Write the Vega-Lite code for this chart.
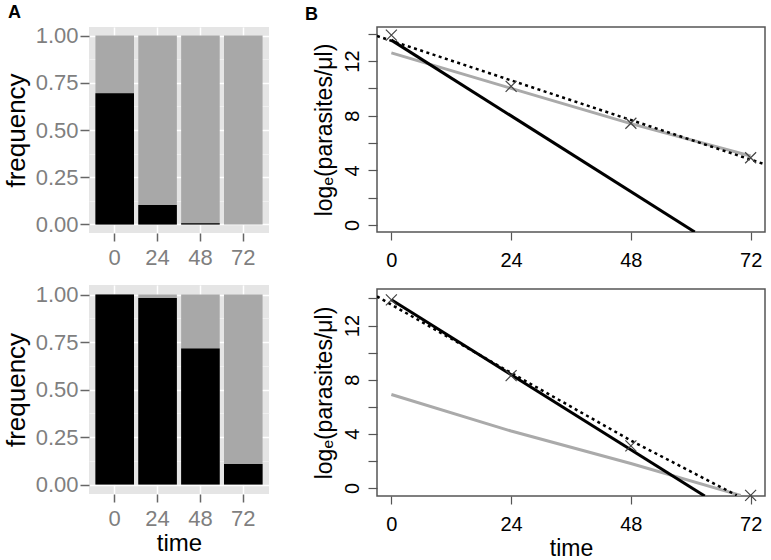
{
  "$schema": "https://vega.github.io/schema/vega-lite/v6.json",
  "background": "white",
  "padding": {"left": 3, "top": 3, "right": 4, "bottom": 0},
  "config": {
    "font": "Liberation Sans",
    "view": {"stroke": null},
    "axis": {"titleFontWeight": "normal", "labelFont": "Liberation Sans", "titleFont": "Liberation Sans", "titleColor": "black"}
  },
  "datasets": {
    "aTop": [
      {"time": "0", "total": 1, "black": 0.695},
      {"time": "24", "total": 1, "black": 0.103},
      {"time": "48", "total": 1, "black": 0.006},
      {"time": "72", "total": 1, "black": 0}
    ],
    "aBot": [
      {"time": "0", "total": 1, "black": 1},
      {"time": "24", "total": 1, "black": 0.982},
      {"time": "48", "total": 1, "black": 0.716},
      {"time": "72", "total": 1, "black": 0.108}
    ],
    "bTop": [
      {"s": "obs", "t": 0, "v": 13.9},
      {"s": "obs", "t": 24, "v": 10.15},
      {"s": "obs", "t": 48, "v": 7.45},
      {"s": "obs", "t": 72, "v": 4.92},
      {"s": "fit", "t": 0, "v": 13.53},
      {"s": "fit", "t": 60.8, "v": -0.51},
      {"s": "grey", "t": 0, "v": 12.6},
      {"s": "grey", "t": 24, "v": 10.0},
      {"s": "grey", "t": 48, "v": 7.42},
      {"s": "grey", "t": 72, "v": 5.05},
      {"s": "dotted", "t": -2.88, "v": 13.83},
      {"s": "dotted", "t": 74.88, "v": 4.44}
    ],
    "bBot": [
      {"s": "obs", "t": 0, "v": 13.9},
      {"s": "obs", "t": 24, "v": 8.3},
      {"s": "obs", "t": 48, "v": 3.1},
      {"s": "obs", "t": 72, "v": -0.55},
      {"s": "fit", "t": 0, "v": 13.9},
      {"s": "fit", "t": 62.8, "v": -0.6},
      {"s": "grey", "t": 0, "v": 6.9},
      {"s": "grey", "t": 24, "v": 4.2},
      {"s": "grey", "t": 48, "v": 1.8},
      {"s": "grey", "t": 70, "v": -0.55},
      {"s": "dotted", "t": -2.88, "v": 14.15},
      {"s": "dotted", "t": 24, "v": 8.5},
      {"s": "dotted", "t": 48, "v": 3.5},
      {"s": "dotted", "t": 69.2, "v": -0.55}
    ]
  },
  "spacing": 35,
  "hconcat": [
    {
      "spacing": 15,
      "vconcat": [
        {
          "title": {"text": "A", "anchor": "start", "frame": "group", "dx": -81, "fontSize": 18, "fontWeight": "bold", "offset": 3, "color": "black"},
          "width": 180,
          "height": 206,
          "view": {"fill": "#e5e5e5", "stroke": null},
          "data": {"name": "aTop"},
          "encoding": {
            "x": {"field": "time", "type": "ordinal", "sort": null, "title": null,
              "scale": {"paddingInner": 0.1, "paddingOuter": 0.15},
              "axis": {"labelAngle": 0, "labelFontSize": 22, "labelColor": "#7f7f7f", "tickColor": "#666", "tickSize": 8, "tickWidth": 1.5, "domain": false, "grid": true, "gridColor": "white", "gridWidth": 1.5, "bandPosition": 0.5, "labelPadding": 6}}
          },
          "layer": [
            {
              "mark": {"type": "bar", "color": "#a8a8a8"},
              "encoding": {
                "y": {"field": "total", "type": "quantitative", "title": "frequency",
                  "scale": {"domain": [-0.045, 1.045], "nice": false, "zero": false},
                  "axis": {
                    "values": [0, 0.25, 0.5, 0.75, 1], "format": ".2f",
                    "grid": true, "gridColor": "white", "gridWidth": 1.5, "domain": false,
                    "labelFontSize": 22, "labelColor": "#7f7f7f", "tickColor": "#666", "tickSize": 9, "tickWidth": 1.5,
                    "titleFontSize": 26, "titlePadding": 6, "labelPadding": 2
                  }}
              }
            },
            {
              "mark": {"type": "bar", "color": "black"},
              "encoding": {"y": {"field": "black", "type": "quantitative", "title": null,
                "axis": {"orient": "right", "values": [0.125, 0.375, 0.625, 0.875], "grid": true, "gridColor": "#f2f2f2", "gridWidth": 0.8, "labels": false, "ticks": false, "domain": false, "title": null}}}
            }
          ],
          "resolve": {"axis": {"y": "independent"}, "scale": {"y": "shared"}}
        },
        {
          "width": 180,
          "height": 209,
          "view": {"fill": "#e5e5e5", "stroke": null},
          "data": {"name": "aBot"},
          "encoding": {
            "x": {"field": "time", "type": "ordinal", "sort": null, "title": "time",
              "scale": {"paddingInner": 0.1, "paddingOuter": 0.15},
              "axis": {"labelAngle": 0, "labelFontSize": 22, "labelColor": "#7f7f7f", "tickColor": "#666", "tickSize": 8, "tickWidth": 1.5, "domain": false, "grid": true, "gridColor": "white", "gridWidth": 1.5, "bandPosition": 0.5, "labelPadding": 6, "titleFontSize": 24, "titlePadding": 2}}
          },
          "layer": [
            {
              "mark": {"type": "bar", "color": "#a8a8a8"},
              "encoding": {
                "y": {"field": "total", "type": "quantitative", "title": "frequency",
                  "scale": {"domain": [-0.05, 1.05], "nice": false, "zero": false},
                  "axis": {
                    "values": [0, 0.25, 0.5, 0.75, 1], "format": ".2f",
                    "grid": true, "gridColor": "white", "gridWidth": 1.5, "domain": false,
                    "labelFontSize": 22, "labelColor": "#7f7f7f", "tickColor": "#666", "tickSize": 9, "tickWidth": 1.5,
                    "titleFontSize": 26, "titlePadding": 6, "labelPadding": 2
                  }}
              }
            },
            {
              "mark": {"type": "bar", "color": "black"},
              "encoding": {"y": {"field": "black", "type": "quantitative", "title": null,
                "axis": {"orient": "right", "values": [0.125, 0.375, 0.625, 0.875], "grid": true, "gridColor": "#f2f2f2", "gridWidth": 0.8, "labels": false, "ticks": false, "domain": false, "title": null}}}
            }
          ],
          "resolve": {"axis": {"y": "independent"}, "scale": {"y": "shared"}}
        }
      ]
    },
    {
      "spacing": 17,
      "vconcat": [
        {
          "title": {"text": "B", "anchor": "start", "frame": "group", "dx": -72, "fontSize": 18, "fontWeight": "bold", "offset": 3, "color": "black"},
          "width": 388,
          "height": 205,
          "view": {"stroke": "#555", "strokeWidth": 1.5, "fill": "white"},
          "data": {"name": "bTop"},
          "encoding": {
            "x": {"field": "t", "type": "quantitative", "title": null,
              "scale": {"domain": [-2.88, 74.88], "nice": false, "zero": false},
              "axis": {"values": [0, 24, 48, 72], "grid": false, "domain": false, "labelFontSize": 20, "labelColor": "black", "tickColor": "#555", "tickSize": 8, "tickWidth": 1.2, "labelPadding": 10, "labelFlush": false}},
            "y": {"field": "v", "type": "quantitative", "title": "logₑ(parasites/μl)",
              "scale": {"domain": [-0.51, 14.49], "nice": false, "zero": false},
              "axis": {"values": [0, 2, 4, 6, 8, 10, 12, 14], "labelExpr": "datum.value % 4 == 0 ? datum.label : ''", "grid": false, "domain": false, "labelAngle": -90, "labelAlign": "center", "labelBaseline": "bottom", "labelFontSize": 20, "labelColor": "black", "tickColor": "#555", "tickSize": 9, "tickWidth": 1.2, "labelPadding": 6, "titleFontSize": 23, "titlePadding": 6}}
          },
          "layer": [
            {"transform": [{"filter": "datum.s == 'grey'"}], "mark": {"type": "line", "color": "#aaaaaa", "strokeWidth": 3, "clip": true}, "encoding": {}},
            {"transform": [{"filter": "datum.s == 'fit'"}], "mark": {"type": "line", "color": "black", "strokeWidth": 3, "clip": true}, "encoding": {}},
            {"transform": [{"filter": "datum.s == 'dotted'"}], "mark": {"type": "line", "color": "black", "strokeWidth": 2.5, "strokeDash": [3, 3.5], "clip": true}, "encoding": {}},
            {"transform": [{"filter": "datum.s == 'obs'"}], "mark": {"type": "point", "shape": "M-1,-1L1,1M-1,1L1,-1", "filled": false, "stroke": "#444", "strokeWidth": 1.2, "size": 121, "opacity": 1}, "encoding": {}}
          ]
        },
        {
          "width": 388,
          "height": 207,
          "view": {"stroke": "#555", "strokeWidth": 1.5, "fill": "white"},
          "data": {"name": "bBot"},
          "encoding": {
            "x": {"field": "t", "type": "quantitative", "title": "time",
              "scale": {"domain": [-2.88, 74.88], "nice": false, "zero": false},
              "axis": {"values": [0, 24, 48, 72], "grid": false, "domain": false, "labelFontSize": 20, "labelColor": "black", "tickColor": "#555", "tickSize": 8, "tickWidth": 1.2, "labelPadding": 10, "labelFlush": false, "titleFontSize": 23, "titlePadding": 3}},
            "y": {"field": "v", "type": "quantitative", "title": "logₑ(parasites/μl)",
              "scale": {"domain": [-0.6, 14.7], "nice": false, "zero": false},
              "axis": {"values": [0, 2, 4, 6, 8, 10, 12, 14], "labelExpr": "datum.value % 4 == 0 ? datum.label : ''", "grid": false, "domain": false, "labelAngle": -90, "labelAlign": "center", "labelBaseline": "bottom", "labelFontSize": 20, "labelColor": "black", "tickColor": "#555", "tickSize": 9, "tickWidth": 1.2, "labelPadding": 6, "titleFontSize": 23, "titlePadding": 6}}
          },
          "layer": [
            {"transform": [{"filter": "datum.s == 'grey'"}], "mark": {"type": "line", "color": "#aaaaaa", "strokeWidth": 3, "clip": true}, "encoding": {}},
            {"transform": [{"filter": "datum.s == 'fit'"}], "mark": {"type": "line", "color": "black", "strokeWidth": 3, "clip": true}, "encoding": {}},
            {"transform": [{"filter": "datum.s == 'dotted'"}], "mark": {"type": "line", "color": "black", "strokeWidth": 2.5, "strokeDash": [3, 3.5], "clip": true}, "encoding": {}},
            {"transform": [{"filter": "datum.s == 'obs'"}], "mark": {"type": "point", "shape": "M-1,-1L1,1M-1,1L1,-1", "filled": false, "stroke": "#444", "strokeWidth": 1.2, "size": 121, "opacity": 1}, "encoding": {}}
          ]
        }
      ]
    }
  ]
}
